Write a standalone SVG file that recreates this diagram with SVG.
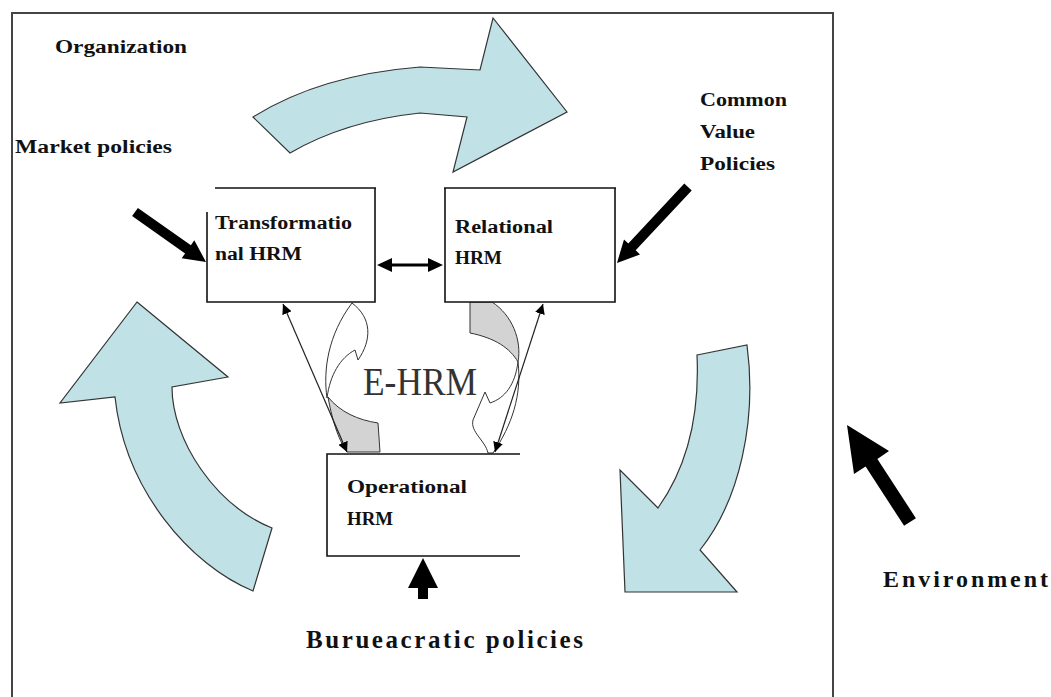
<svg xmlns="http://www.w3.org/2000/svg" width="1051" height="697" viewBox="0 0 1051 697">
<style>
.lbl{font-family:"Liberation Serif","DejaVu Serif",serif;font-weight:bold;fill:#111;font-size:18px}
.big{font-family:"Liberation Serif","DejaVu Serif",serif;font-weight:bold;fill:#111}
.blue{fill:#c0e1e6;stroke:#333;stroke-width:1.2}
.gray{fill:#d3d3d3;stroke:#333;stroke-width:1}
.white{fill:#fff;stroke:#333;stroke-width:1}
.box{fill:#fff;stroke:none}
.edge{stroke:#111;stroke-width:1.6;fill:none}
.thin{stroke:#222;stroke-width:1.2;fill:none}
.solid{fill:#000}
</style>
<defs>
<marker id="ah" viewBox="0 0 10 10" refX="10" refY="5" markerWidth="10" markerHeight="10" markerUnits="userSpaceOnUse" orient="auto-start-reverse">
<path d="M0,0 L10,5 L0,10 z" fill="#000"/>
</marker>
</defs>
<rect width="1051" height="697" fill="#fff"/>
<g id="frame">
<path d="M12,700 L12,13 L833,13 L833,700" fill="none" stroke="#444" stroke-width="2"/>
</g>
<g id="cycle-arrows">
<path id="arrow-top" class="blue" d="M253,117 Q320,75 420,67 L480,70 L493,18 L567,112 L453,172 L467,117 L420,113 Q345,121 290,153 Z"/>
<path id="arrow-right" class="blue" d="M697,355 L747,345 C757,420 740,500 700,550 L737,592 L625,592 L620,470 L658,508 C685,470 700,420 697,355 Z"/>
<path id="arrow-left" class="blue" d="M137,302 L228,377 L172,387 C172,440 215,505 272,528 L253,591 C190,565 125,490 115,397 L60,403 Z"/>
</g>
<g id="ehrm-arrows">
<path class="white" d="M327,398 C323,370 328,335 352,303 C372,318 372,340 358,360 L355,350 C340,358 330,375 327,398 Z"/>
<path class="gray" d="M328,397 C333,425 340,442 347,452 L380,452 L378,423 C358,420 340,412 328,397 Z"/>
<path class="gray" d="M470,302 L492,302 C512,315 522,340 518,362 C510,348 495,338 470,333 Z"/>
<path class="white" d="M518,362 C522,395 512,425 493,453 L488,453 C485,440 470,432 473,420 L485,392 L490,403 C505,398 515,385 518,362 Z"/>
</g>
<g id="connectors">
<line class="thin" x1="283" y1="304" x2="347" y2="452" marker-start="url(#ah)" marker-end="url(#ah)"/>
<line class="thin" x1="543" y1="304" x2="495" y2="452" marker-start="url(#ah)" marker-end="url(#ah)"/>
<polygon class="solid" points="377,265 392,258 392,263.5 428,263.5 428,258 443,265 428,272 428,266.5 392,266.5 392,272"/>
<polygon class="solid" points="206,262 181.7,258.3 185.1,253.4 132.1,216.1 137.9,207.9 190.9,245.2 194.3,240.3"/>
<polygon class="solid" points="617,263 640,254.4 635.7,250.3 691.7,190.4 684.3,183.6 628.3,243.5 624,239.4"/>
<polygon class="solid" points="423,558 438,588 428,588 428,599 418,599 418,588 408,588"/>
<polygon class="solid" points="847,425 889,451 877.4,459 915.9,518.2 904.1,525.8 865.6,466.6 854,474"/>
</g>
<g id="node-transformational">
<rect class="box" x="207" y="188" width="168" height="114"/>
<line class="edge" x1="215" y1="188" x2="376" y2="188" stroke-width="3"/>
<path class="edge" d="M207,212 L207,302 L375,302 L375,188"/>
<text class="lbl" x="215" y="229" textLength="137" lengthAdjust="spacingAndGlyphs">Transformatio</text>
<text class="lbl" x="215" y="260" textLength="87" lengthAdjust="spacingAndGlyphs">nal HRM</text>
</g>
<g id="node-relational">
<rect class="box" x="445" y="188" width="170" height="114"/>
<line class="edge" x1="444" y1="188" x2="616" y2="188" stroke-width="3"/>
<path class="edge" d="M445,188 L445,302 L615,302 L615,188"/>
<text class="lbl" x="455" y="233" textLength="98" lengthAdjust="spacingAndGlyphs">Relational</text>
<text class="lbl" x="455" y="264" textLength="47" lengthAdjust="spacingAndGlyphs">HRM</text>
</g>
<g id="node-operational">
<rect class="box" x="327" y="454" width="193" height="102"/>
<path class="edge" d="M520,454 L327,454 L327,556 L520,556"/>
<text class="lbl" x="347" y="493" textLength="120" lengthAdjust="spacingAndGlyphs">Operational</text>
<text class="lbl" x="347" y="525" textLength="46" lengthAdjust="spacingAndGlyphs">HRM</text>
</g>
<g id="labels">
<text class="lbl" x="55" y="53" textLength="132" lengthAdjust="spacingAndGlyphs">Organization</text>
<text class="lbl" x="15" y="153" textLength="157" lengthAdjust="spacingAndGlyphs">Market policies</text>
<text class="lbl" x="700" y="106" textLength="87" lengthAdjust="spacingAndGlyphs">Common</text>
<text class="lbl" x="700" y="138" textLength="55" lengthAdjust="spacingAndGlyphs">Value</text>
<text class="lbl" x="700" y="170" textLength="75" lengthAdjust="spacingAndGlyphs">Policies</text>
<text x="363" y="395" font-family="Liberation Serif, DejaVu Serif, serif" font-size="40" fill="#333" textLength="114" lengthAdjust="spacingAndGlyphs">E-HRM</text>
<text class="big" x="306" y="648" font-size="25" textLength="277" lengthAdjust="spacing">Burueacratic policies</text>
<text class="big" x="883" y="587" font-size="24" textLength="165" lengthAdjust="spacing">Environment</text>
</g>
</svg>
